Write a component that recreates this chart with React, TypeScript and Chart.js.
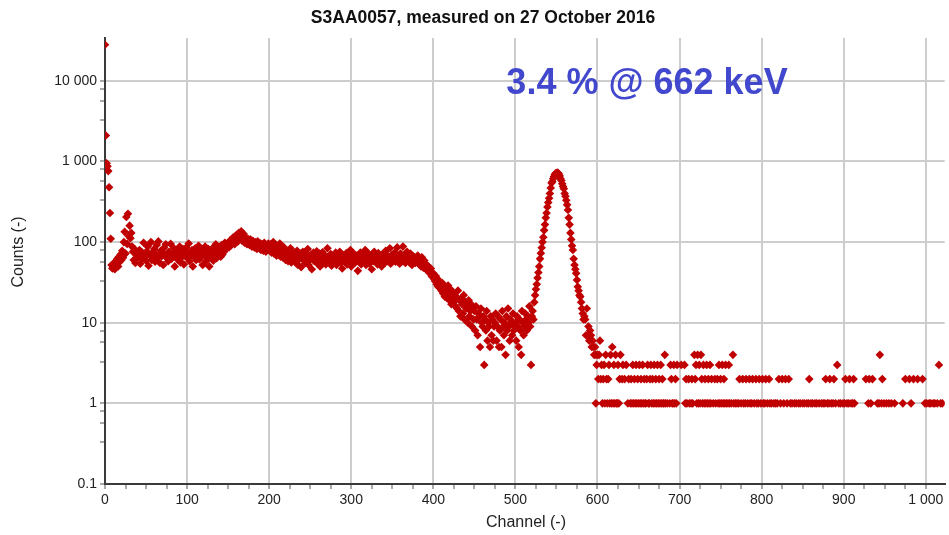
import React, { useEffect, useRef } from "react";
import { Chart, registerables } from "chart.js";

Chart.register(...registerables);

// ---- Data (counts per channel) ----
const countsCh000to039 = [
  28000, 2100, 950, 870, 760, 480, 230, 110, 52, 47,
  48, 55, 46, 58, 52, 62, 50, 66, 57, 70,
  60, 78, 64, 100, 134, 72, 205, 95, 225, 118,
  160, 112, 130, 88, 76, 60, 82, 55, 70, 64,
];
const countsCh040to149 = [
  72, 65, 80, 54, 68, 75, 62, 98, 70, 66, 59, 77, 88, 51, 71, 68, 100, 60, 74, 66, 82, 57, 70, 92, 64,
  102, 70, 55, 78, 67, 73, 52, 85, 69, 94, 64, 72, 58, 76, 68, 95, 62, 71, 66, 84, 50, 74, 69, 78, 60,
  70, 88, 56, 73, 66, 82, 53, 75, 67, 86, 64, 71, 96, 58, 74, 69, 80, 50, 72, 65, 84, 60, 76, 68, 90,
  61, 71, 66, 80, 52, 74, 69, 88, 58, 72, 67, 82, 50, 75, 70, 62, 84, 59, 73, 68, 94, 63, 77, 70, 86,
  72, 66, 92, 70, 82, 76, 98, 84, 90, 86,
];
const countsCh150to229 = [
  95, 86, 104, 90, 108, 96, 114, 100, 94, 120, 106, 124, 102, 130, 110, 118, 136, 104, 114, 126, 98, 112, 102, 94, 110,
  100, 92, 108, 96, 88, 104, 93, 86, 100, 90, 82, 102, 88, 84, 97, 80, 94, 86, 78, 98, 84, 76, 92, 82, 96,
  88, 78, 94, 74, 85, 100, 72, 82, 92, 68, 88, 76, 70, 96, 66, 80, 74, 64, 86, 68, 60, 80, 70, 58, 76, 66, 84, 56, 72, 62,
];
const countsCh230to379 = [
  66, 74, 56, 64, 78, 52, 68, 62, 72, 49, 65, 76, 60, 67, 55, 71, 63, 82, 52, 66, 61, 70, 46, 64, 74,
  58, 67, 62, 77, 54, 63, 72, 50, 66, 60, 75, 56, 64, 68, 53, 62, 84, 56, 65, 61, 71, 51, 67, 63, 57,
  66, 74, 52, 63, 68, 60, 76, 55, 64, 47, 69, 62, 66, 56, 73, 53, 63, 67, 60, 80, 50, 65, 58, 72, 62,
  56, 68, 63, 44, 66, 60, 74, 53, 64, 70, 57, 62, 80, 52, 66, 61, 72, 54, 63, 67, 46, 65, 58, 76, 62,
  60, 66, 53, 73, 63, 57, 68, 50, 64, 72, 61, 55, 78, 65, 58, 67, 62, 84, 54, 64, 70, 59, 66, 74, 57,
  63, 86, 60, 67, 54, 72, 64, 58, 88, 62, 68, 55, 66, 76, 59, 64, 56, 72, 63, 52, 67, 60, 65, 55, 62,
];
const countsCh380to525 = [
  60, 68, 54, 62, 57, 50, 65, 55, 48, 59, 53, 46, 52, 44, 50, 42, 41, 47, 38, 37,
  41, 35, 33, 38, 30, 35, 28, 33, 27, 30, 25, 31, 23, 28, 21, 27, 25, 20, 29, 22, 19, 26, 17, 24, 21,
  18, 23, 16, 21, 15, 25, 14, 19, 12, 20, 17, 13, 22, 11, 18, 15, 16, 10, 19, 12, 14, 17, 9, 15, 11,
  14, 8, 16, 11, 7, 13, 12, 5, 15, 10, 9, 12, 3, 11, 8, 14, 6, 10, 9, 5, 12, 7, 11, 6, 9,
  10, 13, 6, 9, 12, 5, 8, 11, 5, 14, 9, 7, 10, 4, 12, 8, 15, 9, 6, 11, 10, 7, 13, 8, 9,
  10, 6, 12, 9, 5, 11, 8, 4, 14, 10, 7, 9, 13, 11, 8, 12, 10, 16, 9, 3, 12, 14, 11, 18, 22, 26,
];
const countsCh526to599 = [
  30, 36, 42, 50, 62, 73, 85, 100, 115, 140, 165, 200, 230, 272, 310, 350, 400, 470, 540, 560,
  610, 650, 690, 715, 700, 730, 720, 700, 660, 610, 580, 530, 490, 460, 400, 370, 330, 290, 250, 200,
  165, 130, 108, 90, 80, 62, 52, 46, 41, 34, 28, 25, 22, 21, 18, 15, 13, 11, 12, 11,
  7, 15, 7, 9, 6, 8, 7, 5, 6, 5, 4, 5, 4, 3,
];

// Tail (channels 600 - 1023): channels having a given count (others are 0)
const tailCount6Channels = [603];
const tailCount5Channels = [618];
const tailCount4Channels = [600, 602, 610, 616, 622, 628, 682, 718, 722, 726, 765, 944];
const tailCount3Channels = [
  605, 608, 614, 620, 625, 631, 635, 643, 647, 651, 655, 661, 665, 669, 673, 677, 689, 693, 697, 702,
  706, 720, 724, 729, 733, 737, 748, 752, 756, 760, 892, 1016,
];
const tailCount2Channels = [
  601, 604, 607, 611, 613, 627, 630, 633, 638, 641, 645, 649, 653, 657, 660, 664, 667, 671, 675, 679,
  690, 695, 708, 711, 715, 719, 727, 731, 735, 739, 743, 746, 750, 754, 773, 777, 781, 785, 789, 793,
  797, 801, 805, 809, 821, 825, 829, 833, 858, 878, 883, 888, 902, 907, 912, 927, 931, 935, 947, 975,
  980, 985, 990, 996,
];
const tailCount1Channels = [
  598, 606, 609, 612, 615, 617, 619, 621, 623, 624, 626,
  637, 640, 642, 644, 646, 648, 650, 652, 654, 656, 658, 659, 662, 663, 666, 668, 670, 672, 674, 676,
  678, 680, 681, 683, 685, 688, 691, 692, 694, 696,
  707, 709, 712, 714, 716, 721, 723, 725, 728, 730, 732, 734, 736, 738, 741, 744, 747, 749, 751, 753,
  755, 757, 759, 761, 763, 766, 768, 770, 772, 775, 778, 780, 783, 786, 788, 791, 794, 796, 799, 802,
  804, 807, 810, 812, 815, 817, 819, 823, 827, 831, 835, 837, 840, 842, 845, 847, 850, 852, 855, 857,
  860, 862, 865, 867, 870, 873, 875, 877, 880, 882, 885, 887, 890, 894, 896, 899, 901, 904, 906, 909,
  911, 913, 930, 933, 941, 943, 946, 949, 952, 955, 958, 962, 972, 982,
  999, 1001, 1004, 1006, 1009, 1011, 1014, 1018, 1020,
];

const xTickValues = [
  0, 25, 50, 75, 100, 125, 150, 175, 200, 225, 250, 275, 300, 325, 350, 375, 400, 425, 450, 475,
  500, 525, 550, 575, 600, 625, 650, 675, 700, 725, 750, 775, 800, 825, 850, 875, 900, 925, 950, 975, 1000,
];
const yMajorTicks = [0.1, 1, 10, 100, 1000, 10000];
const yMinorFactors = [0.33, 0.57, 0.8];

const titleText = "S3AA0057, measured on 27 October 2016";
const annotationText = "3.4 % @ 662 keV";
const xTitle = "Channel (-)";
const yTitle = "Counts (-)";

function fmt(v: number): string {
  if (v >= 1000) {
    const s = String(Math.round(v));
    return s.replace(/\B(?=(\d{3})+(?!\d))/g, " ");
  }
  return String(v);
}

function isDecade(v: number): boolean {
  const l = Math.log10(v);
  return Math.abs(l - Math.round(l)) < 1e-6;
}

export default function App() {
  const ref = useRef<HTMLCanvasElement | null>(null);

  useEffect(() => {
    const canvas = ref.current;
    if (!canvas) return;
    const headCounts = [
      ...countsCh000to039,
      ...countsCh040to149,
      ...countsCh150to229,
      ...countsCh230to379,
      ...countsCh380to525,
      ...countsCh526to599,
    ];
    const points: { x: number; y: number }[] = headCounts.map((v, i) => ({ x: i, y: v }));
    const addTail = (chs: number[], c: number) => chs.forEach((ch) => points.push({ x: ch, y: c }));
    addTail(tailCount1Channels, 1);
    addTail(tailCount2Channels, 2);
    addTail(tailCount3Channels, 3);
    addTail(tailCount4Channels, 4);
    addTail(tailCount5Channels, 5);
    addTail(tailCount6Channels, 6);

    const font = "'Liberation Sans', Arial, sans-serif";

    const textPlugin = {
      id: "texts",
      afterDraw(chart: any) {
        const c = chart.ctx;
        c.save();
        c.fillStyle = "#111";
        c.font = `bold 17.5px ${font}`;
        c.textAlign = "center";
        c.textBaseline = "middle";
        c.fillText(titleText, 483, 18);

        c.font = `16px ${font}`;
        c.fillStyle = "#222";
        c.fillText(xTitle, 526, 523);
        c.save();
        c.translate(19, 252);
        c.rotate(-Math.PI / 2);
        c.fillText(yTitle, 0, 0);
        c.restore();

        c.font = `bold 36px ${font}`;
        c.fillStyle = "rgb(66, 72, 206)";
        c.fillText(annotationText, 647, 84);
        c.restore();
      },
    };

    const chart = new Chart(canvas, {
      type: "scatter",
      data: {
        datasets: [
          {
            data: points,
            pointStyle: "rectRot",
            pointRadius: 4.3,
            pointBorderWidth: 0,
            pointBackgroundColor: "#C00000",
            pointBorderColor: "#C00000",
          } as any,
        ],
      },
      options: {
        animation: false,
        responsive: false,
        maintainAspectRatio: false,
        layout: { padding: { left: 0, right: 3, top: 38, bottom: 0 } },
        plugins: {
          legend: { display: false },
          title: { display: false },
          tooltip: { enabled: false },
        },
        scales: {
          x: {
            type: "linear",
            min: 0,
            max: 1023,
            afterBuildTicks: (s: any) => {
              s.ticks = xTickValues.map((v) => ({ value: v }));
            },
            afterFit: (s: any) => {
              s.height = 51;
              s.paddingLeft = 0;
              s.paddingRight = 0;
            },
            border: { display: true, color: "#3a3a3a", width: 2 },
            grid: {
              color: (ctx: any) =>
                ctx.tick && ctx.tick.value % 100 === 0 && ctx.tick.value !== 0 ? "#cdcdcd" : "rgba(0,0,0,0)",
              lineWidth: 2,
              drawTicks: true,
              tickLength: 5,
              tickColor: "#555",
              tickWidth: 1,
            },
            ticks: {
              autoSkip: false,
              maxRotation: 0,
              padding: 3,
              color: "#222",
              font: { family: font, size: 14 },
              callback: (v: any) => (Number(v) % 100 === 0 ? fmt(Number(v)) : ""),
            },
          },
          y: {
            type: "logarithmic",
            min: 0.1,
            max: 34000,
            afterBuildTicks: (s: any) => {
              const t: number[] = [...yMajorTicks];
              yMajorTicks.forEach((d) => {
                if (d >= 1) yMinorFactors.forEach((f) => t.push(d * f));
              });
              t.sort((a, b) => a - b);
              s.ticks = t.map((v) => ({ value: v }));
            },
            afterFit: (s: any) => {
              s.width = 105;
              s.paddingTop = 0;
              s.paddingBottom = 0;
            },
            border: { display: true, color: "#3a3a3a", width: 2 },
            grid: {
              color: (ctx: any) =>
                ctx.tick && isDecade(ctx.tick.value) && ctx.tick.value > 0.11 ? "#cdcdcd" : "rgba(0,0,0,0)",
              lineWidth: 2,
              drawTicks: true,
              tickLength: 5,
              tickColor: "#555",
              tickWidth: 1,
            },
            ticks: {
              autoSkip: false,
              padding: 3,
              color: "#222",
              font: { family: font, size: 14 },
              callback: (v: any) => (isDecade(Number(v)) ? fmt(Number(v)) : ""),
            },
          },
        },
      } as any,
      plugins: [textPlugin],
    });
    return () => chart.destroy();
  }, []);

  return (
    <div style={{ position: "absolute", left: 0, top: 0, width: 949, height: 535, background: "#fff" }}>
      <canvas ref={ref} width={949} height={535} style={{ width: 949, height: 535, display: "block" }} />
    </div>
  );
}
